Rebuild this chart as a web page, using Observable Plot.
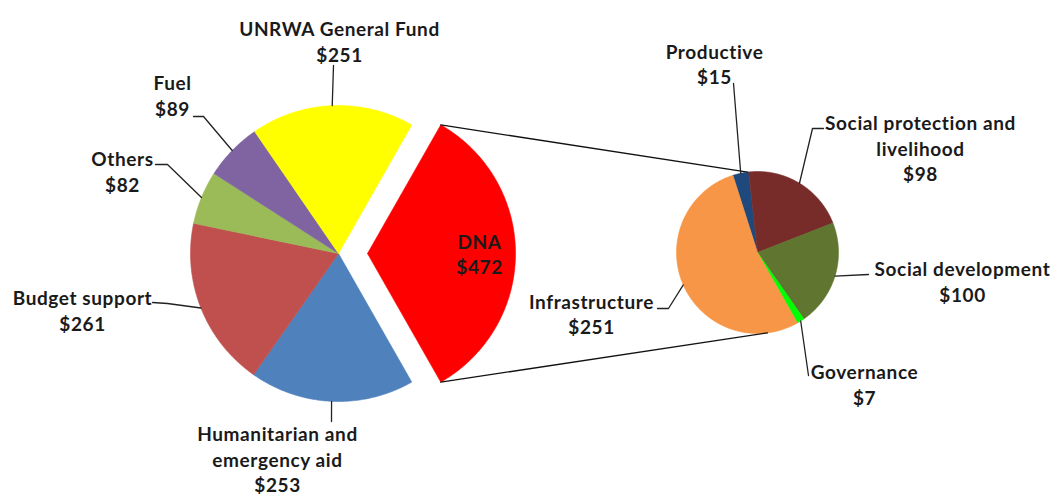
<!DOCTYPE html>
<html><head><meta charset="utf-8">
<script src="https://cdn.jsdelivr.net/npm/d3@7"></script>
<script src="https://cdn.jsdelivr.net/npm/@observablehq/plot@0.6"></script>
<style>body{margin:0;background:#fff}</style>
</head><body><div id="chart"></div>
<script>
// ---------- data ----------
const mainCategories = ["DNA", "Humanitarian and emergency aid", "Budget support", "Others", "Fuel", "UNRWA General Fund"];
const mainValues = [472, 253, 261, 82, 89, 251];
const mainColors = ["#FF0000", "#4F81BD", "#C0504D", "#9BBB59", "#8064A2", "#FFFF00"];
const mainLabelNames = ["DNA", "Humanitarian and\nemergency aid", "Budget support", "Others", "Fuel", "UNRWA General Fund"];

const dnaCategories = ["Productive", "Social protection and livelihood", "Social development", "Governance", "Infrastructure"];
const dnaValues = [15, 98, 100, 7, 251];
const dnaColors = ["#1F497D", "#772C2A", "#5F7530", "#00FF00", "#F79646"];
const dnaLabelNames = ["Productive", "Social protection and\nlivelihood", "Social development", "Governance", "Infrastructure"];

// ---------- layout (pixels) ----------
const W = 1060, H = 496;
const mainPie = {cx: 338, cy: 253, r: 148, explode: 29};
const subPie = {cx: 757, cy: 252, r: 81, startDeg: -17.7};
const connectorDeg = [-7, 173];
const labelLayout = {
  "UNRWA General Fund": {x: 339, y: 40.5, leader: [[333, 65]]},
  "Fuel": {x: 172, y: 94.5, leader: [[193, 116], [203, 116]]},
  "Others": {x: 122, y: 170.5, leader: [[155, 164], [167, 164]]},
  "Budget support": {x: 82, y: 309.5, leader: [[152, 302], [167, 303]]},
  "Humanitarian and emergency aid": {x: 277, y: 458, leader: [[331, 421]]},
  "DNA": {x: 479, y: 253, leader: null},
  "Productive": {x: 714, y: 63, leader: [[733, 83]]},
  "Social protection and livelihood": {x: 920, y: 147, leader: [[823, 128], [812, 128]]},
  "Social development": {x: 962, y: 280.5, leader: [[868, 274]]},
  "Infrastructure": {x: 591, y: 313, leader: [[657, 308], [668, 308]]},
  "Governance": {x: 864, y: 383.5, leader: [[808, 375]]}
};

// ---------- geometry via d3.pie ----------
const rad = Math.PI / 180;
const mainTotal = d3.sum(mainValues);
const dnaSpan = mainValues[0] / mainTotal * 2 * Math.PI;
const mainStart = Math.PI / 2 - dnaSpan / 2;
const mainArcs = d3.pie().sort(null).startAngle(mainStart).endAngle(mainStart + 2 * Math.PI)(mainValues);
const subArcs = d3.pie().sort(null).startAngle(subPie.startDeg * rad).endAngle(subPie.startDeg * rad + 2 * Math.PI)(dnaValues);

const pt = (cx, cy, r, a) => [cx + r * Math.sin(a), cy - r * Math.cos(a)];

const sliceRows = [];
const leaderRows = [];
const labelRows = [];
const connectorRows = [];

function addSlice(key, color, cx, cy, r, a0, a1) {
  const n = Math.max(2, Math.ceil((a1 - a0) / (0.5 * rad)));
  sliceRows.push({x: cx, y: cy, key, color});
  for (let i = 0; i <= n; i++) {
    const [x, y] = pt(cx, cy, r, a0 + (a1 - a0) * i / n);
    sliceRows.push({x, y, key, color});
  }
  sliceRows.push({x: cx, y: cy, key, color});
}

function addLabel(name, labelName, value, arcPoint) {
  const L = labelLayout[name];
  labelRows.push({x: L.x, y: L.y, text: labelName + "\n$" + value});
  if (L.leader) {
    L.leader.forEach(([x, y]) => leaderRows.push({x, y, key: name}));
    leaderRows.push({x: arcPoint[0], y: arcPoint[1], key: name});
  }
}

mainArcs.forEach((a, i) => {
  const mid = (a.startAngle + a.endAngle) / 2;
  let cx = mainPie.cx, cy = mainPie.cy;
  if (i === 0) { [cx, cy] = pt(cx, cy, mainPie.explode, mid); }
  addSlice(mainCategories[i], mainColors[i], cx, cy, mainPie.r, a.startAngle, a.endAngle);
  addLabel(mainCategories[i], mainLabelNames[i], mainValues[i], pt(cx, cy, mainPie.r, mid));
  if (i === 0) {
    const p0 = pt(cx, cy, mainPie.r, a.startAngle);
    const p1 = pt(cx, cy, mainPie.r, a.endAngle);
    const q0 = pt(subPie.cx, subPie.cy, subPie.r, connectorDeg[0] * rad);
    const q1 = pt(subPie.cx, subPie.cy, subPie.r, connectorDeg[1] * rad);
    connectorRows.push({x: p0[0], y: p0[1], key: "top"}, {x: q0[0], y: q0[1], key: "top"});
    connectorRows.push({x: p1[0], y: p1[1], key: "bottom"}, {x: q1[0], y: q1[1], key: "bottom"});
  }
});

subArcs.forEach((a, i) => {
  const mid = (a.startAngle + a.endAngle) / 2;
  addSlice(dnaCategories[i], dnaColors[i], subPie.cx, subPie.cy, subPie.r, a.startAngle, a.endAngle);
  addLabel(dnaCategories[i], dnaLabelNames[i], dnaValues[i], pt(subPie.cx, subPie.cy, subPie.r, mid));
});

const font = "Lato, 'Noto Sans', sans-serif";
const chart = Plot.plot({
  width: W, height: H, margin: 0,
  style: {fontFamily: font, background: "#fff", letterSpacing: "0.6px"},
  x: {domain: [0, W], range: [0, W], axis: null},
  y: {domain: [0, H], range: [0, H], axis: null},
  color: {type: "identity"},
  marks: [
    Plot.line(sliceRows, {x: "x", y: "y", z: "key", fill: "color", stroke: "color", strokeWidth: 0.6, curve: "linear"}),
    Plot.line(connectorRows, {x: "x", y: "y", z: "key", stroke: "#111", strokeWidth: 1.3}),
    Plot.line(leaderRows, {x: "x", y: "y", z: "key", stroke: "#222", strokeWidth: 1.3}),
    Plot.text(labelRows, {x: "x", y: "y", text: "text", fontSize: 19, fontWeight: "bold", fontFamily: font,
      fill: "#1a1a1a", lineHeight: 1.34, lineAnchor: "middle", textAnchor: "middle"})
  ]
});
document.getElementById("chart").appendChild(chart);
</script>
</body></html>
